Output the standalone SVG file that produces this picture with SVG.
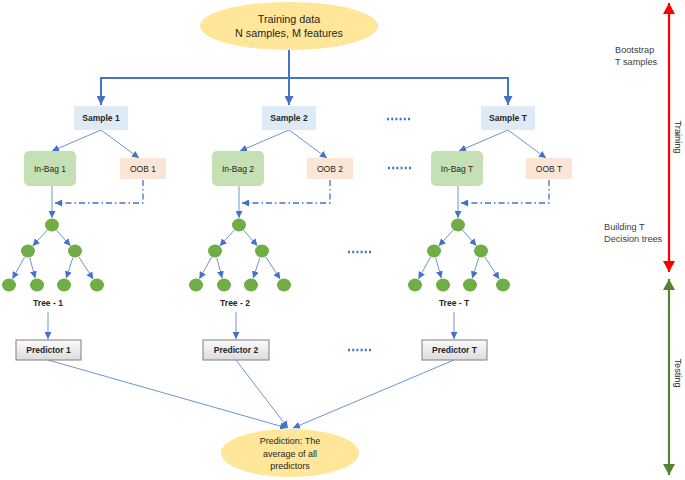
<svg xmlns="http://www.w3.org/2000/svg" width="685" height="480" viewBox="0 0 685 480">
<defs>
<style>
text{font-family:"Liberation Sans",Arial,sans-serif;fill:#262626;text-anchor:middle;dominant-baseline:central}
.b{font-weight:bold;font-size:8.5px}
.n{font-size:8.5px}
.side{font-size:9.2px;text-anchor:start;fill:#404040}
.thick{stroke:#4472C4;stroke-width:2;fill:none}
.thin{stroke:#6E94D4;stroke-width:1;fill:none}
.dd{stroke:#4472C4;stroke-width:1.3;fill:none;stroke-dasharray:6 3 1.5 3}
.dots{stroke:#4472C4;stroke-width:2.5;stroke-dasharray:2 2.2;fill:none}
.sample{fill:#DEEBF7}
.inbag{fill:#C5E0B4}
.oob{fill:#FBE5D6}
.pred{fill:url(#pg);stroke:#7F7F7F;stroke-width:1}
.leaf{fill:#70AD47}
.ell{fill:#FFE699}
</style>
<linearGradient id="pg" x1="0" y1="0" x2="0" y2="1">
<stop offset="0" stop-color="#FAFAFA"/>
<stop offset="1" stop-color="#DCDCDC"/>
</linearGradient>
<marker id="ah" markerUnits="userSpaceOnUse" markerWidth="8" markerHeight="7" refX="7" refY="3.5" orient="auto">
<path d="M0,0 L7,3.5 L0,7 z" fill="#4472C4"/>
</marker>
<marker id="ahb" markerUnits="userSpaceOnUse" markerWidth="10" markerHeight="9" refX="9" refY="4.5" orient="auto">
<path d="M0,0 L9,4.5 L0,9 z" fill="#4472C4"/>
</marker>
<marker id="red" markerUnits="userSpaceOnUse" markerWidth="12" markerHeight="12" refX="11" refY="6" orient="auto-start-reverse">
<path d="M0,0 L11,6 L0,12 z" fill="#FF0000"/>
</marker>
<marker id="grn" markerUnits="userSpaceOnUse" markerWidth="12" markerHeight="12" refX="11" refY="6" orient="auto-start-reverse">
<path d="M0,0 L11,6 L0,12 z" fill="#548235"/>
</marker>
</defs>
<rect width="685" height="480" fill="#FFFFFF"/>

<g id="connectors">
<path class="thick" d="M289,50 V105" marker-end="url(#ahb)"/>
<path class="thick" d="M101,78 H508"/>
<path class="thick" d="M101,77 V105" marker-end="url(#ahb)"/>
<path class="thick" d="M508,77 V105" marker-end="url(#ahb)"/>

<path class="thin" d="M101,130 L52,151" marker-end="url(#ah)"/>
<path class="thin" d="M101,130 L139,158" marker-end="url(#ah)"/>
<path class="thin" d="M289,130 L240,151" marker-end="url(#ah)"/>
<path class="thin" d="M289,130 L327,158" marker-end="url(#ah)"/>
<path class="thin" d="M508,130 L459,151" marker-end="url(#ah)"/>
<path class="thin" d="M508,130 L546,158" marker-end="url(#ah)"/>

<path class="thin" d="M52,186 V218" stroke-width="1.5" marker-end="url(#ah)"/>
<path class="thin" d="M239,186 V218" stroke-width="1.5" marker-end="url(#ah)"/>
<path class="thin" d="M458,186 V218" stroke-width="1.5" marker-end="url(#ah)"/>

<path class="dd" d="M143,180 V203 H55" marker-end="url(#ah)"/>
<path class="dd" d="M330,180 V203 H242" marker-end="url(#ah)"/>
<path class="dd" d="M549,180 V203 H461" marker-end="url(#ah)"/>

<g transform="translate(52,0)">
<path class="thin" d="M-4.7,230.1 L-19.3,245.9" marker-end="url(#ah)"/>
<path class="thin" d="M4.6,230.2 L18.4,245.8" marker-end="url(#ah)"/>
<path class="thin" d="M-27.4,257.1 L-39.6,278.9" marker-end="url(#ah)"/>
<path class="thin" d="M-22.2,257.8 L-16.8,278.2" marker-end="url(#ah)"/>
<path class="thin" d="M20.8,257.7 L14.2,278.3" marker-end="url(#ah)"/>
<path class="thin" d="M26.8,256.9 L41.2,279.1" marker-end="url(#ah)"/>
</g>
<g transform="translate(239,0)">
<path class="thin" d="M-4.7,230.1 L-19.3,245.9" marker-end="url(#ah)"/>
<path class="thin" d="M4.6,230.2 L18.4,245.8" marker-end="url(#ah)"/>
<path class="thin" d="M-27.4,257.1 L-39.6,278.9" marker-end="url(#ah)"/>
<path class="thin" d="M-22.2,257.8 L-16.8,278.2" marker-end="url(#ah)"/>
<path class="thin" d="M20.8,257.7 L14.2,278.3" marker-end="url(#ah)"/>
<path class="thin" d="M26.8,256.9 L41.2,279.1" marker-end="url(#ah)"/>
</g>
<g transform="translate(458,0)">
<path class="thin" d="M-4.7,230.1 L-19.3,245.9" marker-end="url(#ah)"/>
<path class="thin" d="M4.6,230.2 L18.4,245.8" marker-end="url(#ah)"/>
<path class="thin" d="M-27.4,257.1 L-39.6,278.9" marker-end="url(#ah)"/>
<path class="thin" d="M-22.2,257.8 L-16.8,278.2" marker-end="url(#ah)"/>
<path class="thin" d="M20.8,257.7 L14.2,278.3" marker-end="url(#ah)"/>
<path class="thin" d="M26.8,256.9 L41.2,279.1" marker-end="url(#ah)"/>
</g>

<path class="thin" d="M48,312 V339" marker-end="url(#ah)"/>
<path class="thin" d="M236,312 V339" marker-end="url(#ah)"/>
<path class="thin" d="M454,312 V339" marker-end="url(#ah)"/>

<path class="thin" d="M48,360 L287,428" marker-end="url(#ah)"/>
<path class="thin" d="M236,360 L288,428" marker-end="url(#ah)"/>
<path class="thin" d="M454,360 L293,428" marker-end="url(#ah)"/>

<path class="dots" d="M387,119 H412"/>
<path class="dots" d="M388,168 H413"/>
<path class="dots" d="M348,252 H373"/>
<path class="dots" d="M348,350 H373"/>

<path d="M669,3 V272" stroke="#FF0000" stroke-width="2.2" fill="none" marker-start="url(#red)" marker-end="url(#red)"/>
<path d="M669,279 V475" stroke="#548235" stroke-width="2.2" fill="none" marker-start="url(#grn)" marker-end="url(#grn)"/>
</g>

<g id="training-data">
<ellipse class="ell" cx="289" cy="26" rx="89" ry="24"/>
<text x="289" y="19" style="font-size:10.8px">Training data</text>
<text x="289" y="33" style="font-size:10.8px">N samples, M features</text>
</g>

<g id="sample-1"><rect class="sample" x="74" y="106" width="54" height="24"/><text class="b" x="101" y="118">Sample 1</text></g>
<g id="sample-2"><rect class="sample" x="262" y="106" width="54" height="24"/><text class="b" x="289" y="118">Sample 2</text></g>
<g id="sample-t"><rect class="sample" x="481" y="106" width="54" height="24"/><text class="b" x="508" y="118">Sample T</text></g>

<g id="inbag-1"><rect class="inbag" x="24" y="151" width="52" height="35" rx="5"/><text class="n" x="50" y="168.5">In-Bag 1</text></g>
<g id="inbag-2"><rect class="inbag" x="212" y="151" width="52" height="35" rx="5"/><text class="n" x="238" y="168.5">In-Bag 2</text></g>
<g id="inbag-t"><rect class="inbag" x="431" y="151" width="52" height="35" rx="5"/><text class="n" x="457" y="168.5">In-Bag T</text></g>

<g id="oob-1"><rect class="oob" x="120" y="158" width="46" height="21"/><text class="n" x="143" y="168.5">OOB 1</text></g>
<g id="oob-2"><rect class="oob" x="307" y="158" width="46" height="21"/><text class="n" x="330" y="168.5">OOB 2</text></g>
<g id="oob-t"><rect class="oob" x="526" y="158" width="46" height="21"/><text class="n" x="549" y="168.5">OOB T</text></g>

<g id="tree-1" transform="translate(52,0)">
<ellipse class="leaf" cx="0" cy="225" rx="7" ry="6.5"/>
<ellipse class="leaf" cx="-24" cy="251" rx="7" ry="6.5"/>
<ellipse class="leaf" cx="23" cy="251" rx="7" ry="6.5"/>
<ellipse class="leaf" cx="-43" cy="285" rx="7" ry="6.5"/>
<ellipse class="leaf" cx="-15" cy="285" rx="7" ry="6.5"/>
<ellipse class="leaf" cx="12" cy="285" rx="7" ry="6.5"/>
<ellipse class="leaf" cx="45" cy="285" rx="7" ry="6.5"/>
<text class="b" x="-4" y="303">Tree - 1</text>
</g>
<g id="tree-2" transform="translate(239,0)">
<ellipse class="leaf" cx="0" cy="225" rx="7" ry="6.5"/>
<ellipse class="leaf" cx="-24" cy="251" rx="7" ry="6.5"/>
<ellipse class="leaf" cx="23" cy="251" rx="7" ry="6.5"/>
<ellipse class="leaf" cx="-43" cy="285" rx="7" ry="6.5"/>
<ellipse class="leaf" cx="-15" cy="285" rx="7" ry="6.5"/>
<ellipse class="leaf" cx="12" cy="285" rx="7" ry="6.5"/>
<ellipse class="leaf" cx="45" cy="285" rx="7" ry="6.5"/>
<text class="b" x="-4" y="303">Tree - 2</text>
</g>
<g id="tree-t" transform="translate(458,0)">
<ellipse class="leaf" cx="0" cy="225" rx="7" ry="6.5"/>
<ellipse class="leaf" cx="-24" cy="251" rx="7" ry="6.5"/>
<ellipse class="leaf" cx="23" cy="251" rx="7" ry="6.5"/>
<ellipse class="leaf" cx="-43" cy="285" rx="7" ry="6.5"/>
<ellipse class="leaf" cx="-15" cy="285" rx="7" ry="6.5"/>
<ellipse class="leaf" cx="12" cy="285" rx="7" ry="6.5"/>
<ellipse class="leaf" cx="45" cy="285" rx="7" ry="6.5"/>
<text class="b" x="-4" y="303">Tree - T</text>
</g>

<g id="predictor-1"><rect class="pred" x="16" y="340" width="65" height="20"/><text class="b" x="48.5" y="350">Predictor 1</text></g>
<g id="predictor-2"><rect class="pred" x="203" y="340" width="66" height="20"/><text class="b" x="236" y="350">Predictor 2</text></g>
<g id="predictor-t"><rect class="pred" x="422" y="340" width="65" height="20"/><text class="b" x="454.5" y="350">Predictor T</text></g>

<g id="prediction">
<ellipse class="ell" cx="290" cy="453" rx="69" ry="24"/>
<text x="290" y="441" style="font-size:9px">Prediction: The</text>
<text x="290" y="453.5" style="font-size:9px">average of all</text>
<text x="290" y="466" style="font-size:9px">predictors</text>
</g>

<g id="labels">
<text class="side" x="615" y="50">Bootstrap</text>
<text class="side" x="615" y="62">T samples</text>
<text class="side" x="604" y="227">Building T</text>
<text class="side" x="604" y="239">Decision trees</text>
<text x="678" y="137" transform="rotate(90 678 137)" style="font-size:9.2px">Training</text>
<text x="678" y="373" transform="rotate(90 678 373)" style="font-size:9.2px">Testing</text>
</g>
</svg>
